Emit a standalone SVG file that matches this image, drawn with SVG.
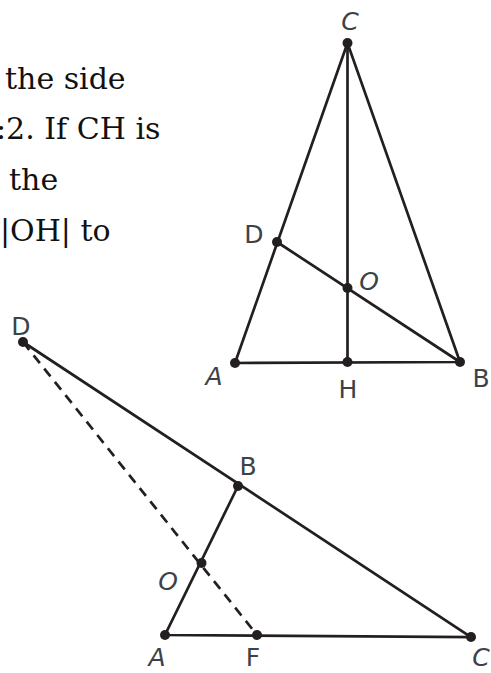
<svg xmlns="http://www.w3.org/2000/svg" width="491" height="673" viewBox="0 0 491 673">
<style>
.txt{font-family:"DejaVu Serif","Liberation Serif",serif;font-size:30px;fill:#111}
.lbl{font-family:"DejaVu Sans","Noto Sans",sans-serif;font-size:25px;fill:#3d4247;text-anchor:middle}
.it{font-style:italic}
.ln{stroke:#231f20;stroke-width:2.7;fill:none;stroke-linecap:round}
.dash{stroke-dasharray:10 7;stroke-linecap:butt}
.pt{fill:#231f20}
</style>
<rect width="491" height="673" fill="#fff"/>
<g id="problem-text" class="txt">
<text x="5" y="89">the side</text>
<text x="-4" y="139">:2. If CH is</text>
<text x="9" y="190">the</text>
<text x="0" y="241">|OH| to</text>
</g>
<g id="connectors">
<path class="ln" d="M347.5 43 L235 363 L460 362 Z"/>
<path class="ln" d="M347.5 43 L347.5 362"/>
<path class="ln" d="M277 242 L460 362"/>
<path class="ln" d="M23 342 L471 637 L165 635 L238 486"/>
<path class="ln dash" d="M23 342 L257 635"/>
</g>
<g id="top-C"><circle class="pt" cx="347.5" cy="43" r="5"/><text class="lbl it" x="350" y="30">C</text></g>
<g id="top-D"><circle class="pt" cx="277" cy="242" r="5"/><text class="lbl" x="254" y="243">D</text></g>
<g id="top-O"><circle class="pt" cx="347.5" cy="288" r="5"/><text class="lbl it" x="369" y="290">O</text></g>
<g id="top-A"><circle class="pt" cx="235" cy="363" r="5"/><text class="lbl it" x="214" y="385">A</text></g>
<g id="top-H"><circle class="pt" cx="347.5" cy="362" r="5"/><text class="lbl" x="348" y="398">H</text></g>
<g id="top-B"><circle class="pt" cx="460" cy="362" r="5"/><text class="lbl" x="481" y="387">B</text></g>
<g id="bot-D"><circle class="pt" cx="23" cy="342" r="5"/><text class="lbl" x="21" y="335">D</text></g>
<g id="bot-B"><circle class="pt" cx="238" cy="486" r="5"/><text class="lbl" x="248" y="475">B</text></g>
<g id="bot-O"><circle class="pt" cx="201.5" cy="563" r="5"/><text class="lbl it" x="168" y="590">O</text></g>
<g id="bot-A"><circle class="pt" cx="165" cy="635" r="5"/><text class="lbl it" x="157" y="666">A</text></g>
<g id="bot-F"><circle class="pt" cx="257" cy="635" r="5"/><text class="lbl" x="253" y="666">F</text></g>
<g id="bot-C"><circle class="pt" cx="471" cy="637" r="5"/><text class="lbl it" x="481" y="666">C</text></g>
</svg>
